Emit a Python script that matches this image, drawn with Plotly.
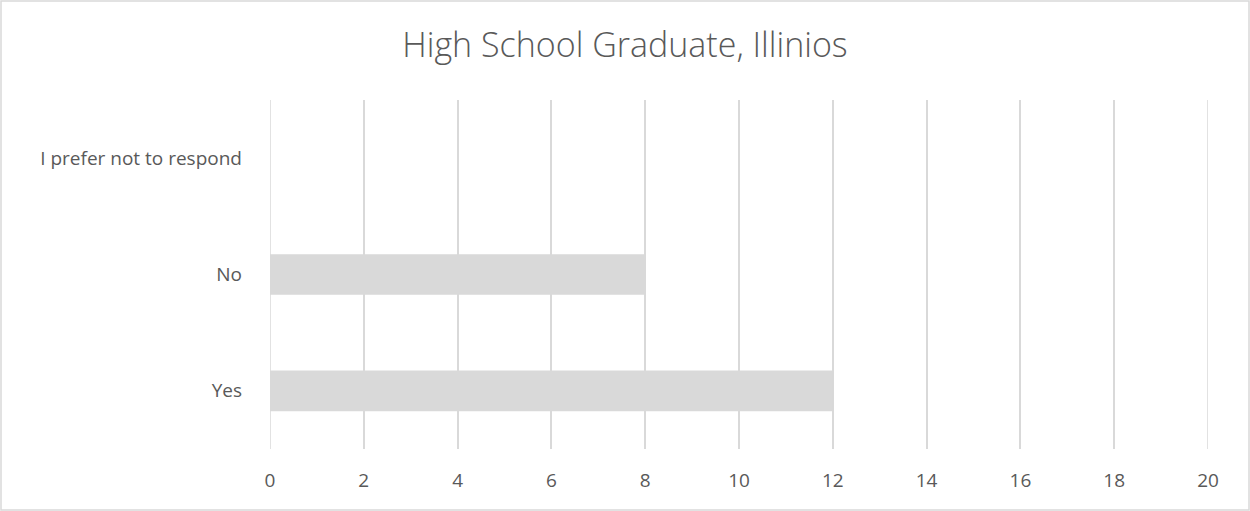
import plotly.graph_objects as go

categories = ["Yes", "No", "I prefer not to respond"]
counts = [12, 8, 0]
x_ticks = list(range(0, 21, 2))

W, H = 1250, 511
L, R, T, B = 270, 42, 100, 62
GRID = "#d9d9d9"

fig = go.Figure(
    go.Bar(
        x=counts,
        y=categories,
        orientation="h",
        marker=dict(color="#d9d9d9", line=dict(width=0)),
        width=0.35,
    )
)

# plot-area width/height, used to draw a border around the whole chart
pw, ph = W - L - R, H - T - B

shapes = [
    dict(
        type="rect",
        xref="paper",
        yref="paper",
        x0=-(L - 1) / pw,
        x1=1 + (R - 1) / pw,
        y0=-(B - 1) / ph,
        y1=1 + (T - 1) / ph,
        line=dict(color=GRID, width=1.5),
        layer="below",
    )
]
# plotly skips gridlines sitting on the plot edges, so draw those two by hand
for xv in (x_ticks[0], x_ticks[-1]):
    shapes.append(
        dict(
            type="line",
            xref="x",
            yref="paper",
            x0=xv,
            x1=xv,
            y0=0,
            y1=1,
            line=dict(color=GRID, width=1.5),
            layer="below",
        )
    )

fig.update_layout(
    width=W,
    height=H,
    margin=dict(l=L, r=R, t=T, b=B),
    paper_bgcolor="white",
    plot_bgcolor="white",
    showlegend=False,
    font=dict(family="Open Sans", color="#595959", size=19),
    title=dict(
        text="High School Graduate, Illinios",
        x=0.5,
        xanchor="center",
        y=1 - 45 / H,
        yanchor="middle",
        font=dict(family="Open Sans", size=34, color="#595959", weight=300),
    ),
    xaxis=dict(
        range=[0, 20],
        tickvals=x_ticks,
        showgrid=True,
        gridcolor=GRID,
        gridwidth=1.5,
        zeroline=False,
        showline=False,
        ticks="",
        ticklabelstandoff=18,
        tickfont=dict(size=19, color="#595959"),
        fixedrange=True,
    ),
    yaxis=dict(
        categoryorder="array",
        categoryarray=categories,
        showgrid=False,
        zeroline=False,
        showline=False,
        ticks="",
        ticklabelstandoff=27,
        tickfont=dict(size=19, color="#595959"),
        fixedrange=True,
    ),
    shapes=shapes,
)

fig.write_html(
    "out.html",
    config={"displayModeBar": False},
    post_script="document.body.style.margin='0';",
)
